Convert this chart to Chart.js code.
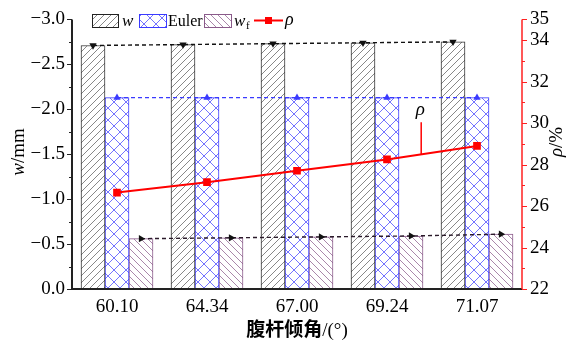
<!DOCTYPE html>
<html>
<head>
<meta charset="utf-8">
<script src="https://cdn.jsdelivr.net/npm/chart.js@4.4.0/dist/chart.umd.min.js"></script>
<style>
  html, body { margin: 0; padding: 0; background: #fff; }
  #wrap { width: 574px; height: 348px; }
</style>
</head>
<body>
<div id="wrap"><canvas id="c" width="574" height="348"></canvas></div>
<script>
// Web-member inclination angle (deg)
const angles = ['60.10', '64.34', '67.00', '69.24', '71.07'];
// Deflections (mm)
const wDeflection = [-2.71, -2.72, -2.73, -2.74, -2.75];
const eulerDeflection = [-2.13, -2.13, -2.13, -2.13, -2.13];
const wfDeflection = [-0.56, -0.57, -0.58, -0.59, -0.61];
// Ratio rho (%)
const rhoPercent = [26.65, 27.15, 27.7, 28.25, 28.9];
// Axis ticks
const leftTicks = [-3, -2.5, -2, -1.5, -1, -0.5, 0];
const rightTickLabels = [22, 24, 26, 28, 30, 32, 34, 35];

const SERIF = '"Liberation Serif", "Times New Roman", serif';
const CJK = '"Noto Sans CJK SC", sans-serif';
const BLUE = '#3a3aff';
const PURPLE = '#8a5a8a';
const GROUP_PCT = 0.8;   // share of a category taken by its three bars

function makePattern(color, kind, step, lw) {
  const c = document.createElement('canvas');
  c.width = step; c.height = step;
  const g = c.getContext('2d');
  g.fillStyle = '#fff';
  g.fillRect(0, 0, step, step);
  g.strokeStyle = color;
  g.lineWidth = lw;
  g.beginPath();
  if (kind === '/' || kind === 'x') {
    g.moveTo(-1, step + 1); g.lineTo(step + 1, -1);
    g.moveTo(-1, 1); g.lineTo(1, -1);
    g.moveTo(step - 1, step + 1); g.lineTo(step + 1, step - 1);
  }
  if (kind === '\\' || kind === 'x') {
    g.moveTo(-1, -1); g.lineTo(step + 1, step + 1);
    g.moveTo(step - 1, -1); g.lineTo(step + 1, 1);
    g.moveTo(-1, step - 1); g.lineTo(1, step + 1);
  }
  g.stroke();
  return g.createPattern(c, 'repeat');
}

const ctx = document.getElementById('c').getContext('2d');
const patW = makePattern('#6a6a6a', '/', 7, 0.8);
const patEuler = makePattern('#5050ff', 'x', 12, 0.8);
const patWf = makePattern('#946894', '\\', 7, 0.8);

// position of each bar inside its group, in category units
const groupOffset = j => (j - 1) * GROUP_PCT / 3;
const toPoints = (arr, j) => arr.map((v, i) => ({ x: i + groupOffset(j), y: v }));

// width of one bar in pixels, taken from the hidden linear x scale
const barWidth = c => {
  const s = c.chart.scales.xl;
  if (!s) return 24;
  const w = Math.abs(s.getPixelForValue(GROUP_PCT / 3) - s.getPixelForValue(0));
  return isFinite(w) && w > 0 ? w : 24;
};

const dashed = (arr, j, color, markerColor, rot) => ({
  type: 'line',
  xAxisID: 'xl', yAxisID: 'y',
  data: toPoints(arr, j),
  borderColor: color,
  borderWidth: 1.4,
  borderDash: [4, 3],
  pointStyle: 'triangle',
  pointRotation: rot,
  pointRadius: 4.2,
  pointBackgroundColor: markerColor,
  pointBorderColor: markerColor,
  pointBorderWidth: 0,
  order: 2
});

const bar = (arr, j, pat, border) => ({
  type: 'bar',
  xAxisID: 'xl', yAxisID: 'y',
  data: toPoints(arr, j),
  backgroundColor: pat,
  borderColor: border,
  borderWidth: 1,
  borderSkipped: 'start',
  grouped: false,
  barThickness: barWidth,
  order: 10
});

function drawRotText(g, parts, cx, cy) {
  g.save();
  g.translate(cx, cy);
  g.rotate(-Math.PI / 2);
  let total = 0;
  parts.forEach(p => { g.font = p.font; total += g.measureText(p.t).width; });
  let x = -total / 2;
  g.textBaseline = 'middle';
  g.textAlign = 'left';
  parts.forEach(p => { g.font = p.font; g.fillStyle = p.color || '#000'; g.fillText(p.t, x, 0); x += g.measureText(p.t).width; });
  g.restore();
}

const decor = {
  id: 'decor',
  afterDraw(chart) {
    const g = chart.ctx;
    const a = chart.chartArea;
    const y = chart.scales.y, y2 = chart.scales.y2, xl = chart.scales.xl;
    g.save();

    // left + bottom axis lines, left ticks
    g.strokeStyle = '#222';
    g.lineWidth = 2;
    g.beginPath();
    g.moveTo(a.left, a.top); g.lineTo(a.left, a.bottom + 1);
    g.moveTo(a.left - 1, a.bottom); g.lineTo(a.right, a.bottom);
    g.stroke();
    g.lineWidth = 1;
    g.beginPath();
    for (let v = -3; v <= 0.001; v += 0.25) {
      const py = Math.round(y.getPixelForValue(v)) + 0.5;
      const major = Math.abs(v * 2 - Math.round(v * 2)) < 1e-6;
      g.moveTo(a.left - (major ? 5 : 3), py); g.lineTo(a.left, py);
    }
    g.stroke();

    // right axis + ticks (red)
    g.strokeStyle = '#ff2020';
    g.lineWidth = 1.5;
    g.beginPath();
    g.moveTo(a.right, a.top); g.lineTo(a.right, a.bottom);
    g.stroke();
    g.lineWidth = 1;
    g.beginPath();
    for (let v = 22; v <= 35; v += 1) {
      const py = Math.round(y2.getPixelForValue(v)) + 0.5;
      const major = v % 2 === 0 || v === 35;
      g.moveTo(a.right, py); g.lineTo(a.right + (major ? 5 : 3), py);
    }
    g.stroke();

    // legend
    const ly = 14, lh = 13;
    g.lineWidth = 1;
    g.fillStyle = patW; g.fillRect(92, ly, 26, lh);
    g.strokeStyle = '#222'; g.strokeRect(92.5, ly + 0.5, 26, lh);
    g.fillStyle = patEuler; g.fillRect(139, ly, 27, lh);
    g.strokeStyle = BLUE; g.strokeRect(139.5, ly + 0.5, 27, lh);
    g.fillStyle = patWf; g.fillRect(204, ly, 27, lh);
    g.strokeStyle = PURPLE; g.strokeRect(204.5, ly + 0.5, 27, lh);
    g.fillStyle = '#000';
    g.textBaseline = 'alphabetic';
    g.textAlign = 'left';
    g.font = 'italic 17px ' + SERIF; g.fillText('w', 122, 26);
    g.font = '16px ' + SERIF; g.fillText('Euler', 168, 26);
    g.font = 'italic 17px ' + SERIF; g.fillText('w', 234, 26);
    g.font = '11px ' + SERIF; g.fillText('f', 246, 29);
    g.strokeStyle = '#ff0000'; g.lineWidth = 2;
    g.beginPath(); g.moveTo(254, 20.5); g.lineTo(283, 20.5); g.stroke();
    g.fillStyle = '#ff0000'; g.fillRect(265, 17, 7, 7);
    g.fillStyle = '#000';
    g.font = 'italic 18px ' + SERIF; g.fillText('\u03c1', 285, 25);

    // rho annotation with leader line
    const t = 0.38;
    const lx = xl.getPixelForValue(3 + t);
    const lyBottom = y2.getPixelForValue(rhoPercent[3] + (rhoPercent[4] - rhoPercent[3]) * t);
    g.strokeStyle = '#ff0000'; g.lineWidth = 1.5;
    g.beginPath(); g.moveTo(lx, lyBottom); g.lineTo(lx, lyBottom - 32); g.stroke();
    g.fillStyle = '#000';
    g.textAlign = 'center';
    g.font = 'italic 19px ' + SERIF;
    g.fillText('\u03c1', lx - 1, lyBottom - 39);

    // axis titles
    drawRotText(g, [
      { t: 'w', font: 'italic 19px ' + SERIF },
      { t: '/mm', font: '19px ' + SERIF }
    ], 19, 152);
    drawRotText(g, [
      { t: '\u03c1', font: 'italic 19px ' + SERIF },
      { t: '/%', font: '19px ' + SERIF }
    ], 557, 142);

    const p1 = '腹杆倾角', p2 = '/(°)';
    g.font = 'bold 19px ' + CJK; const w1 = g.measureText(p1).width;
    g.font = '19px ' + SERIF; const w2 = g.measureText(p2).width;
    const cx = (a.left + a.right) / 2;
    const x0 = cx - (w1 + w2) / 2;
    g.textAlign = 'left'; g.textBaseline = 'alphabetic';
    g.fillStyle = '#000';
    g.font = 'bold 19px ' + CJK; g.fillText(p1, x0, 336);
    g.font = '19px ' + SERIF; g.fillText(p2, x0 + w1, 336);
    g.restore();
  }
};

new Chart(ctx, {
  type: 'bar',
  data: {
    labels: angles,
    datasets: [
      bar(wDeflection, 0, patW, '#333'),
      bar(eulerDeflection, 1, patEuler, BLUE),
      bar(wfDeflection, 2, patWf, PURPLE),
      {
        type: 'line',
        xAxisID: 'x', yAxisID: 'y2',
        data: rhoPercent,
        borderColor: '#ff0000',
        borderWidth: 2,
        pointStyle: 'rect',
        pointRadius: 4,
        pointBackgroundColor: '#ff0000',
        pointBorderColor: '#ff0000',
        order: 0
      },
      dashed(wDeflection, 0, '#111', '#111', 180),
      dashed(eulerDeflection, 1, BLUE, BLUE, 0),
      dashed(wfDeflection, 2, '#2a1a2a', '#111', 90)
    ]
  },
  options: {
    responsive: false,
    devicePixelRatio: 1,
    animation: false,
    layout: { padding: { top: 13, left: 0, right: 0, bottom: 0 } },
    plugins: { legend: { display: false }, tooltip: { enabled: false } },
    scales: {
      x: {
        type: 'category',
        position: 'bottom',
        offset: true,
        grid: { display: false, drawTicks: false },
        border: { display: false },
        ticks: { color: '#000', font: { family: SERIF, size: 19 }, padding: 7, maxRotation: 0 },
        afterFit(s) { s.height = 59; }
      },
      xl: {
        type: 'linear',
        display: false,
        min: -0.5,
        max: 4.5,
        offset: false
      },
      y: {
        position: 'left',
        reverse: true,
        min: -3,
        max: 0,
        afterBuildTicks(s) { s.ticks = leftTicks.map(v => ({ value: v })); },
        grid: { display: false, drawTicks: false },
        border: { display: false },
        ticks: {
          color: '#000',
          font: { family: SERIF, size: 19 },
          padding: 7,
          callback: v => (v < 0 ? '\u2212' : '') + Math.abs(v).toFixed(1)
        },
        afterFit(s) { s.width = 72; }
      },
      y2: {
        position: 'right',
        min: 22,
        max: 35,
        afterBuildTicks(s) { s.ticks = rightTickLabels.map(v => ({ value: v })); },
        grid: { display: false, drawTicks: false },
        border: { display: false },
        ticks: { color: '#000', font: { family: SERIF, size: 19 }, padding: 8, callback: v => String(v) },
        afterFit(s) { s.width = 52; }
      }
    }
  },
  plugins: [decor]
});
</script>
</body>
</html>
